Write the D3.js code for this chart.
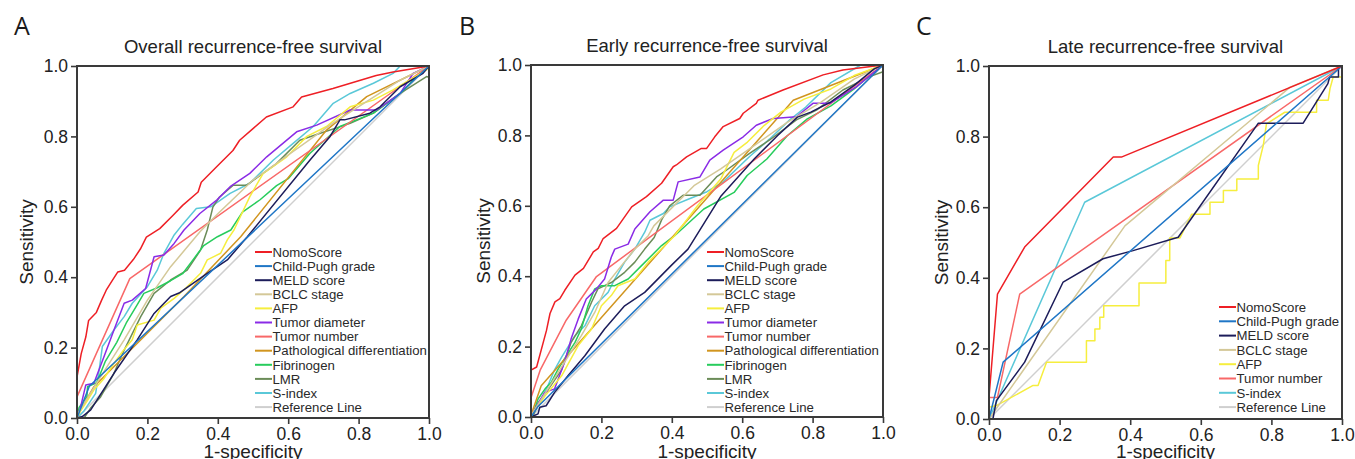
<!DOCTYPE html>
<html>
<head>
<meta charset="utf-8">
<script src="https://cdn.jsdelivr.net/npm/d3@7/dist/d3.min.js"></script>
<style>
  body { margin: 0; background: #fff; }
  svg { display: block; }
</style>
</head>
<body>
<div id="chart"></div>
<script>
const W = 1355, H = 459;
const FONT = "'Liberation Sans', Arial, Helvetica, sans-serif";

const tickValues = [0, 0.2, 0.4, 0.6, 0.8, 1.0];
const seriesNames = ["NomoScore", "Child-Pugh grade", "MELD score", "BCLC stage", "AFP", "Tumor diameter",
  "Tumor number", "Pathological differentiation", "Fibrinogen", "LMR", "S-index", "Reference Line"];
const seriesColors = {
  "NomoScore": "#ee1f25",
  "Child-Pugh grade": "#1f76c6",
  "MELD score": "#1c1c5a",
  "BCLC stage": "#d4c898",
  "AFP": "#f6ee3e",
  "Tumor diameter": "#8a2be6",
  "Tumor number": "#f86868",
  "Pathological differentiation": "#d1951f",
  "Fibrinogen": "#27cc5c",
  "LMR": "#6b8c58",
  "S-index": "#5ac8d8",
  "Reference Line": "#cfcfcf"
};

// [1-specificity, sensitivity] points
// --- A: overall recurrence-free survival
const overallNomo = [[0,0],[0,.116],[.012,.183],[.025,.23],[.033,.277],[.055,.30],[.07,.335],[.083,.363],[.1,.39],[.116,.415],[.135,.42],[.16,.45],[.18,.48],[.197,.514],[.235,.538],[.273,.576],[.30,.604],[.344,.642],[.353,.67],[.396,.713],[.443,.76],[.462,.789],[.5,.822],[.538,.855],[.614,.884],[.638,.912],[.727,.936],[.85,.973],[.898,.983],[1,1]];
const overallChild = [[0,0],[.035,.09],[1,1]];
const overallMeld = [[0,0],[.015,.004],[.039,.023],[.105,.127],[.171,.222],[.219,.297],[.266,.345],[.29,.355],[.37,.411],[.427,.449],[.484,.515],[.662,.733],[.719,.80],[.747,.847],[.76,.847],[.832,.866],[.861,.884],[.918,.941],[.983,.979],[1,1]];
const overallBclc = [[0,0],[.006,.018],[.067,.117],[.134,.222],[.2,.335],[.266,.43],[.3,.47],[.35,.53],[.4,.58],[.5,.676],[.727,.838],[.918,.96],[1,1]];
const overallAfp = [[0,0],[.01,.02],[.03,.05],[.048,.08],[.075,.11],[.105,.155],[.13,.19],[.157,.222],[.171,.264],[.219,.278],[.238,.312],[.276,.34],[.31,.37],[.351,.411],[.37,.449],[.408,.468],[.427,.506],[.446,.534],[.491,.629],[.529,.695],[.596,.742],[.653,.80],[.709,.828],[.776,.884],[.842,.903],[.898,.932],[.993,.989],[1,1]];
const overallDiameter = [[0,0],[.01,.03],[.025,.094],[.048,.099],[.075,.17],[.105,.25],[.134,.326],[.157,.335],[.195,.368],[.219,.458],[.247,.463],[.276,.496],[.304,.534],[.349,.581],[.397,.619],[.435,.657],[.491,.695],[.539,.742],[.624,.813],[.681,.832],[.776,.875],[.851,.875],[.918,.922],[.955,.979],[1,1]];
const overallNumber = [[0,0],[0,.06],[.15,.396],[1,1]];
const overallPath = [[0,0],[.01,.023],[.048,.089],[.304,.345],[.465,.515],[.709,.818],[.823,.913],[1,1]];
const overallFib = [[0,0],[.006,.03],[.028,.06],[.03,.089],[.056,.1],[.08,.16],[.113,.215],[.14,.27],[.17,.32],[.19,.354],[.228,.37],[.266,.39],[.3,.41],[.33,.45],[.36,.49],[.399,.515],[.437,.534],[.47,.585],[.52,.62],[.567,.66],[.6,.68],[.662,.752],[.747,.828],[.842,.866],[.918,.922],[.974,.979],[1,1]];
const overallLmr = [[0,0],[.02,0],[.04,.03],[.067,.06],[.105,.127],[.134,.193],[.181,.288],[.219,.354],[.266,.392],[.313,.42],[.351,.477],[.37,.534],[.386,.599],[.405,.628],[.443,.661],[.481,.661],[.566,.722],[.633,.789],[.689,.808],[.776,.837],[.842,.866],[.918,.922],[.993,.97],[1,.968],[1,1]];
const overallSidx = [[0,0],[.02,.02],[.053,.07],[.063,.136],[.072,.203],[.105,.25],[.134,.288],[.157,.326],[.2,.373],[.228,.42],[.247,.468],[.276,.52],[.3,.55],[.339,.595],[.38,.60],[.435,.638],[.491,.667],[.558,.733],[.614,.78],[.671,.828],[.728,.894],[.776,.922],[.842,.951],[.898,.979],[.918,1],[1,1]];

// --- B: early recurrence-free survival
const earlyNomo = [[0,0],[0,.133],[.016,.142],[.044,.246],[.054,.294],[.068,.327],[.082,.336],[.096,.36],[.125,.403],[.149,.422],[.177,.469],[.191,.479],[.205,.507],[.243,.536],[.286,.597],[.328,.626],[.371,.664],[.404,.711],[.413,.716],[.442,.739],[.484,.763],[.499,.763],[.522,.796],[.546,.825],[.593,.848],[.603,.863],[.64,.891],[.645,.90],[.716,.929],[.83,.972],[.886,.986],[1,1]];
const earlyChild = [[0,0],[.02,.03],[1,1]];
const earlyMeld = [[0,0],[.02,.009],[.025,.028],[.043,.032],[.067,.07],[.105,.117],[.153,.174],[.209,.25],[.266,.316],[.323,.354],[.398,.43],[.446,.477],[.54,.628],[.634,.733],[.70,.799],[.757,.852],[.795,.866],[.852,.895],[.918,.942],[.975,.989],[1,1]];
const earlyBclc = [[0,0],[.006,.013],[.048,.08],[.095,.155],[.143,.231],[.181,.297],[.219,.382],[.257,.43],[.295,.477],[.333,.515],[.349,.543],[.463,.657],[.539,.705],[.634,.771],[.728,.837],[.823,.894],[.918,.96],[1,1]];
const earlyAfp = [[0,0],[.008,.014],[.04,.06],[.087,.117],[.134,.203],[.172,.25],[.2,.316],[.228,.345],[.247,.373],[.295,.392],[.333,.44],[.38,.487],[.408,.515],[.473,.60],[.539,.676],[.577,.752],[.615,.781],[.662,.828],[.71,.866],[.776,.903],[.852,.932],[.918,.97],[1,1]];
const earlyDiameter = [[0,0],[.01,.02],[.039,.07],[.067,.08],[.095,.155],[.114,.222],[.134,.278],[.157,.335],[.186,.364],[.209,.392],[.228,.454],[.238,.477],[.276,.491],[.295,.534],[.338,.583],[.376,.616],[.404,.616],[.418,.668],[.48,.682],[.508,.73],[.546,.758],[.603,.796],[.64,.829],[.688,.848],[.754,.853],[.801,.891],[.849,.891],[.924,.938],[1,1]];
const earlyNumber = [[0,0],[0,.055],[.026,.133],[.1,.275],[.186,.399],[1,1]];
const earlyPath = [[0,0],[.006,.023],[.029,.089],[.745,.90],[1,1]];
const earlyFib = [[0,0],[.006,.01],[.02,.051],[.04,.08],[.058,.099],[.077,.136],[.095,.165],[.125,.212],[.143,.25],[.162,.316],[.181,.364],[.2,.373],[.238,.373],[.276,.392],[.314,.43],[.371,.487],[.408,.515],[.491,.591],[.577,.638],[.614,.686],[.67,.733],[.728,.799],[.785,.847],[.852,.884],[.918,.932],[.975,.98],[1,1]];
const earlyLmr = [[0,0],[.005,0],[.02,.04],[.05,.08],[.087,.134],[.114,.212],[.143,.259],[.172,.326],[.19,.364],[.228,.382],[.266,.411],[.295,.44],[.323,.477],[.35,.51],[.371,.56],[.394,.6],[.432,.63],[.48,.63],[.527,.682],[.555,.701],[.621,.749],[.678,.787],[.754,.844],[.811,.872],[.886,.929],[.962,.967],[1,.981],[1,1]];
const earlySidx = [[0,0],[.02,.03],[.048,.089],[.067,.134],[.087,.17],[.125,.231],[.153,.259],[.181,.316],[.219,.354],[.238,.392],[.266,.44],[.295,.477],[.323,.525],[.338,.559],[.376,.578],[.394,.597],[.45,.62],[.5,.64],[.546,.668],[.621,.74],[.678,.79],[.735,.844],[.78,.88],[.852,.95],[.937,1],[1,1]];

// --- C: late recurrence-free survival
const lateNomo = [[0,0],[0,.061],[.024,.354],[.101,.487],[.352,.742],[.375,.742],[1,1]];
const lateChild = [[0,0],[.04,.161],[1,1]];
const lateMeld = [[0,0],[.011,0],[.021,.052],[.101,.161],[.21,.388],[.323,.454],[.408,.477],[.536,.515],[.763,.838],[.89,.838],[.96,.95],[.965,.969],[.99,.969],[.99,1],[1,1]];
const lateBclc = [[0,0],[.385,.547],[.853,.94],[1,1]];
const lateAfp = [[0,0],[0,.033],[.021,.038],[.125,.095],[.139,.095],[.163,.161],[.276,.161],[.276,.222],[.3,.222],[.3,.255],[.314,.255],[.314,.288],[.325,.288],[.325,.321],[.425,.321],[.425,.385],[.501,.385],[.501,.449],[.512,.449],[.512,.513],[.541,.513],[.574,.58],[.626,.58],[.626,.614],[.664,.614],[.664,.647],[.702,.647],[.702,.68],[.763,.68],[.763,.718],[.777,.775],[.786,.836],[.838,.869],[.928,.869],[.928,.903],[.961,.903],[.966,.936],[.975,.969],[1,.969],[1,1]];
const lateNumber = [[0,0],[0,.061],[.024,.061],[.087,.354],[1,1]];
const lateSidx = [[0,0],[.271,.614],[1,1]];

const referenceLine = [[0,0],[1,1]];

const panels = [
  {
    letter: "A", letterX: 14, title: "Overall recurrence-free survival",
    left: 77, top: 66, size: 352, yTitleX: -44, legendX: 178, legendY: 186, legendStep: 14.1,
    series: {
      "NomoScore": overallNomo, "Child-Pugh grade": overallChild, "MELD score": overallMeld,
      "BCLC stage": overallBclc, "AFP": overallAfp, "Tumor diameter": overallDiameter,
      "Tumor number": overallNumber, "Pathological differentiation": overallPath,
      "Fibrinogen": overallFib, "LMR": overallLmr, "S-index": overallSidx, "Reference Line": referenceLine
    }
  },
  {
    letter: "B", letterX: 459, title: "Early recurrence-free survival",
    left: 531, top: 65, size: 352, yTitleX: -41, legendX: 176, legendY: 187, legendStep: 14.1,
    series: {
      "NomoScore": earlyNomo, "Child-Pugh grade": earlyChild, "MELD score": earlyMeld,
      "BCLC stage": earlyBclc, "AFP": earlyAfp, "Tumor diameter": earlyDiameter,
      "Tumor number": earlyNumber, "Pathological differentiation": earlyPath,
      "Fibrinogen": earlyFib, "LMR": earlyLmr, "S-index": earlySidx, "Reference Line": referenceLine
    }
  },
  {
    letter: "C", letterX: 916, title: "Late recurrence-free survival",
    left: 989, top: 66, size: 353, yTitleX: -41, legendX: 230, legendY: 241, legendStep: 14.3,
    series: {
      "NomoScore": lateNomo, "Child-Pugh grade": lateChild, "MELD score": lateMeld,
      "BCLC stage": lateBclc, "AFP": lateAfp, "Tumor number": lateNumber,
      "S-index": lateSidx, "Reference Line": referenceLine
    }
  }
];

const svg = d3.select("#chart").append("svg")
  .attr("width", W).attr("height", H)
  .style("font-family", FONT);

svg.append("rect").attr("width", W).attr("height", H).attr("fill", "#fff");

panels.forEach(drawPanel);

function drawPanel(p) {
  const x = d3.scaleLinear().domain([0, 1]).range([0, p.size]);
  const y = d3.scaleLinear().domain([0, 1]).range([p.size, 0]);
  const g = svg.append("g").attr("transform", `translate(${p.left},${p.top})`);

  // panel letter and title
  svg.append("text")
    .attr("x", p.letterX).attr("y", 35)
    .style("font-family", "'Open Sans', 'DejaVu Sans', sans-serif")
    .attr("font-size", 25).attr("fill", "#1a1a1a")
    .text(p.letter);
  g.append("text")
    .attr("x", p.size / 2).attr("y", -13)
    .attr("text-anchor", "middle").attr("font-size", 18.5).attr("fill", "#222")
    .text(p.title);

  const names = seriesNames.filter((n) => p.series[n]);
  const line = d3.line().x((d) => x(d[0])).y((d) => y(d[1]));

  // reference first, then the others, NomoScore on top
  const drawOrder = ["Reference Line"].concat(names.filter((n) => n !== "Reference Line").reverse());
  g.selectAll("path.roc")
    .data(drawOrder)
    .join("path")
    .attr("class", "roc")
    .attr("d", (n) => line(p.series[n]))
    .attr("fill", "none")
    .attr("stroke", (n) => seriesColors[n])
    .attr("stroke-width", 1.5)
    .attr("stroke-linejoin", "round");

  // legend
  const leg = g.append("g").attr("transform", `translate(${p.legendX},${p.legendY})`);
  const rows = leg.selectAll("g").data(names).join("g")
    .attr("transform", (d, i) => `translate(0,${i * p.legendStep})`);
  rows.append("line")
    .attr("x1", 0).attr("x2", 17).attr("y1", 0).attr("y2", 0)
    .attr("stroke", (d) => seriesColors[d]).attr("stroke-width", 2);
  rows.append("text")
    .attr("x", 17.5).attr("y", 0).attr("dy", "0.36em")
    .attr("font-size", 13.2).attr("fill", "#2a2a2a")
    .text((d) => d);

  // axes
  const yAxis = g.append("g")
    .call(d3.axisLeft(y).tickValues(tickValues).tickFormat(d3.format(".1f")).tickSize(6).tickPadding(3));
  const xAxis = g.append("g")
    .attr("transform", `translate(0,${p.size})`)
    .call(d3.axisBottom(x).tickValues(tickValues).tickFormat(d3.format(".1f")).tickSize(6).tickPadding(4));
  [yAxis, xAxis].forEach((a) => {
    a.select(".domain").remove();
    a.selectAll(".tick line").attr("stroke", "#3a3a3a").attr("stroke-width", 1.6);
    a.selectAll(".tick text").attr("font-size", 17.5).attr("fill", "#222").style("font-family", FONT);
  });

  // frame
  g.append("rect")
    .attr("width", p.size).attr("height", p.size)
    .attr("fill", "none").attr("stroke", "#3a3a3a").attr("stroke-width", 2);

  // axis titles
  g.append("text")
    .attr("x", p.size / 2).attr("y", H - p.top - 1)
    .attr("text-anchor", "middle").attr("font-size", 19).attr("fill", "#222")
    .text("1-specificity");
  g.append("text")
    .attr("transform", `translate(${p.yTitleX},${p.size / 2}) rotate(-90)`)
    .attr("text-anchor", "middle").attr("font-size", 19).attr("fill", "#222")
    .text("Sensitivity");
}
</script>
</body>
</html>
